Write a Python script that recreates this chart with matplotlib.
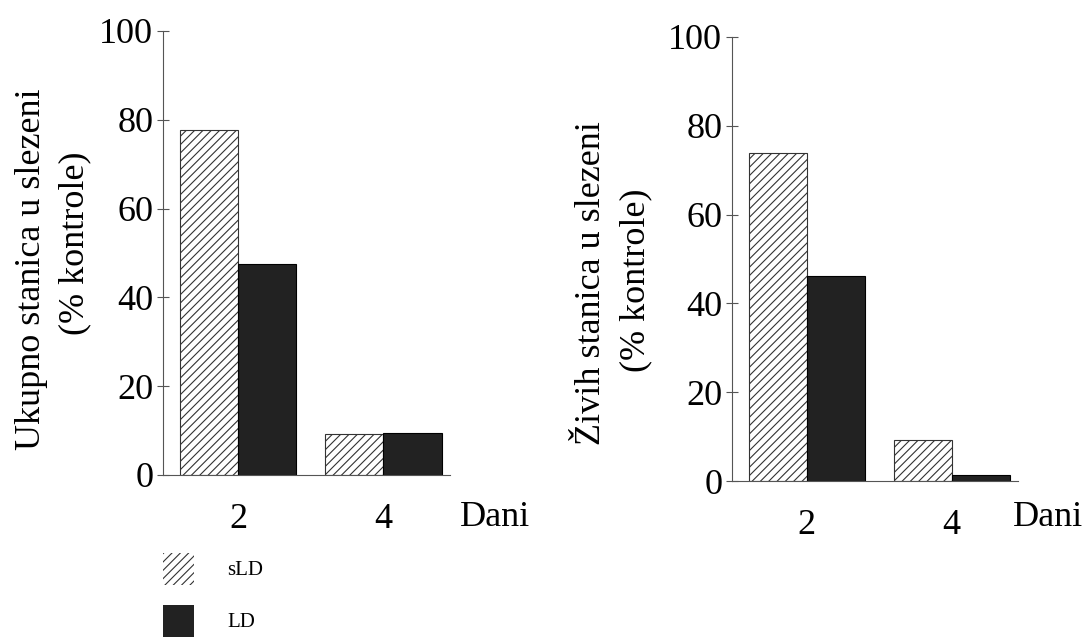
import numpy as np
import matplotlib
matplotlib.use('Agg')
import matplotlib.pyplot as plt
import matplotlib.patches as mpatches

# podaci (% kontrole)
days = ['2', '4']
ukupno_sLD = [77.7, 9.3]
ukupno_LD = [47.5, 9.5]
zivih_sLD = [73.9, 9.2]
zivih_LD = [46.2, 1.4]

plt.rcParams['font.family'] = ['Liberation Serif', 'DejaVu Serif']
plt.rcParams['hatch.linewidth'] = 0.8

fig = plt.figure(figsize=(10.86, 6.43), dpi=100)
ax1 = fig.add_axes([0.1501, 0.2613, 0.2643, 0.6905])
ax2 = fig.add_axes([0.6740, 0.2519, 0.2634, 0.6906])

x = np.arange(len(days))
w = 0.4
dark = '#222222'

def draw(ax, s_vals, l_vals):
    ax.bar(x - w/2, s_vals, w, color='white', edgecolor='#333333',
           hatch='////', linewidth=0.8)
    ax.bar(x + w/2, l_vals, w, color=dark, edgecolor='black', linewidth=0.8)
    ax.set_ylim(0, 100)
    ax.set_xlim(-0.517, 1.458)
    ax.set_yticks([0, 20, 40, 60, 80, 100])
    ax.set_xticks(x)
    ax.set_xticklabels(days)
    ax.spines['top'].set_visible(False)
    ax.spines['right'].set_visible(False)
    for sp in ['left', 'bottom']:
        ax.spines[sp].set_color('#555555')
        ax.spines[sp].set_linewidth(0.8)
    ax.tick_params(axis='y', direction='inout', length=8, width=0.8,
                   color='#555555', labelsize=26, pad=3)
    ax.tick_params(axis='x', length=0, labelsize=26, pad=20)

draw(ax1, ukupno_sLD, ukupno_LD)
draw(ax2, zivih_sLD, zivih_LD)

# oznake osi
fig.text(32/1086, 1 - 269/643, 'Ukupno stanica u slezeni', rotation=90,
         ha='center', va='center', fontsize=26)
fig.text(75/1086, 1 - 243/643, '(% kontrole)', rotation=90,
         ha='center', va='center', fontsize=26)
fig.text(592/1086, 1 - 283/643, 'Živih stanica u slezeni', rotation=90,
         ha='center', va='center', fontsize=26)
fig.text(636/1086, 1 - 280/643, '(% kontrole)', rotation=90,
         ha='center', va='center', fontsize=26)

fig.text(460/1086, 1 - 517/643, 'Dani', ha='left', va='center', fontsize=26)
fig.text(1013/1086, 1 - 517/643, 'Dani', ha='left', va='center', fontsize=26)

# legenda
h1 = mpatches.Patch(facecolor='white', edgecolor='#333333', hatch='////', linewidth=0)
h2 = mpatches.Patch(facecolor=dark, edgecolor=dark, linewidth=0)
fig.legend([h1, h2], ['sLD', 'LD'], loc='upper left',
           bbox_to_anchor=(148/1086, 1 - 538/643), frameon=False,
           fontsize=15, handlelength=1.5, handleheight=2.0,
           handletextpad=1.6, labelspacing=0.95, borderpad=0.2)

fig.savefig('out.png', dpi=100)
